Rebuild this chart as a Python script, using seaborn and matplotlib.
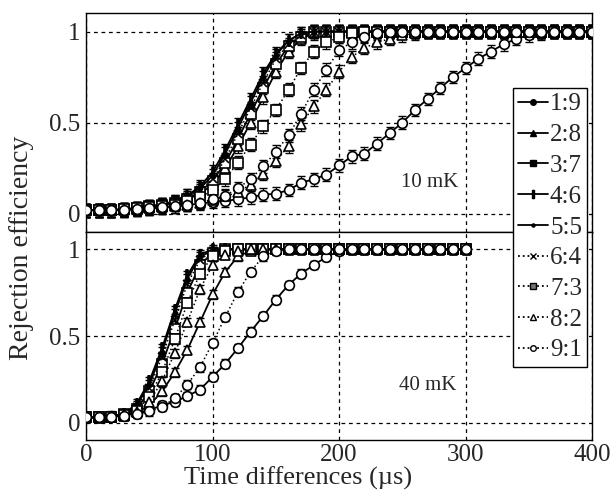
import matplotlib
matplotlib.use("Agg")
import matplotlib.pyplot as plt
from matplotlib.lines import Line2D
import seaborn as sns

# ---------------------------------------------------------------
# Data: rejection efficiency vs. time difference for nine ratios
# ---------------------------------------------------------------
ratios = ["1:9", "2:8", "3:7", "4:6", "5:5", "6:4", "7:3", "8:2", "9:1"]

t_10mk = list(range(0, 401, 10))   # µs, 41 points
t_40mk = list(range(0, 301, 10))   # µs, 31 points

# 10 mK
r19_10mk = [0.02, 0.02, 0.02, 0.02, 0.025, 0.03, 0.035, 0.04, 0.05, 0.055,
            0.065, 0.07, 0.08, 0.09, 0.105, 0.11, 0.13, 0.17, 0.19, 0.215,
            0.265, 0.315, 0.33, 0.385, 0.443, 0.50, 0.57, 0.63, 0.69, 0.75,
            0.80, 0.85, 0.89, 0.93, 0.96, 0.98, 0.99, 1.0, 1.0, 1.0, 1.0]
r28_10mk = [0.02, 0.02, 0.02, 0.025, 0.03, 0.035, 0.045, 0.06, 0.08, 0.11,
            0.16, 0.25, 0.37, 0.50, 0.64, 0.78, 0.89, 0.96, 0.99, 1.0,
            1.0, 1.0, 1.0, 1.0, 1.0, 1.0, 1.0, 1.0, 1.0, 1.0,
            1.0, 1.0, 1.0, 1.0, 1.0, 1.0, 1.0, 1.0, 1.0, 1.0, 1.0]
r37_10mk = [0.02, 0.02, 0.02, 0.025, 0.03, 0.04, 0.05, 0.06, 0.08, 0.12,
            0.18, 0.28, 0.41, 0.55, 0.69, 0.82, 0.92, 0.97, 1.0, 1.0,
            1.0, 1.0, 1.0, 1.0, 1.0, 1.0, 1.0, 1.0, 1.0, 1.0,
            1.0, 1.0, 1.0, 1.0, 1.0, 1.0, 1.0, 1.0, 1.0, 1.0, 1.0]
r46_10mk = [0.02, 0.02, 0.02, 0.025, 0.03, 0.04, 0.05, 0.07, 0.10, 0.15,
            0.23, 0.35, 0.49, 0.63, 0.77, 0.88, 0.95, 0.99, 1.0, 1.0,
            1.0, 1.0, 1.0, 1.0, 1.0, 1.0, 1.0, 1.0, 1.0, 1.0,
            1.0, 1.0, 1.0, 1.0, 1.0, 1.0, 1.0, 1.0, 1.0, 1.0, 1.0]
r55_10mk = [0.02, 0.02, 0.02, 0.025, 0.03, 0.04, 0.05, 0.07, 0.10, 0.14,
            0.21, 0.33, 0.47, 0.61, 0.75, 0.87, 0.95, 0.99, 1.0, 1.0,
            1.0, 1.0, 1.0, 1.0, 1.0, 1.0, 1.0, 1.0, 1.0, 1.0,
            1.0, 1.0, 1.0, 1.0, 1.0, 1.0, 1.0, 1.0, 1.0, 1.0, 1.0]
r64_10mk = [0.02, 0.02, 0.02, 0.025, 0.03, 0.04, 0.05, 0.065, 0.09, 0.13,
            0.19, 0.30, 0.44, 0.58, 0.72, 0.85, 0.93, 0.98, 1.0, 1.0,
            1.0, 1.0, 1.0, 1.0, 1.0, 1.0, 1.0, 1.0, 1.0, 1.0,
            1.0, 1.0, 1.0, 1.0, 1.0, 1.0, 1.0, 1.0, 1.0, 1.0, 1.0]
r73_10mk = [0.02, 0.02, 0.02, 0.025, 0.03, 0.035, 0.04, 0.05, 0.07, 0.09,
            0.13, 0.19, 0.28, 0.38, 0.48, 0.57, 0.68, 0.80, 0.89, 0.94,
            0.97, 0.99, 1.0, 1.0, 1.0, 1.0, 1.0, 1.0, 1.0, 1.0,
            1.0, 1.0, 1.0, 1.0, 1.0, 1.0, 1.0, 1.0, 1.0, 1.0, 1.0]
r82_10mk = [0.02, 0.02, 0.02, 0.02, 0.025, 0.03, 0.035, 0.04, 0.05, 0.06,
            0.075, 0.095, 0.12, 0.16, 0.22, 0.29, 0.37, 0.49, 0.59, 0.68,
            0.78, 0.86, 0.91, 0.94, 0.96, 0.98, 0.99, 1.0, 1.0, 1.0,
            1.0, 1.0, 1.0, 1.0, 1.0, 1.0, 1.0, 1.0, 1.0, 1.0, 1.0]
r91_10mk = [0.02, 0.02, 0.02, 0.02, 0.025, 0.03, 0.035, 0.04, 0.05, 0.06,
            0.08, 0.10, 0.14, 0.19, 0.26, 0.34, 0.43, 0.55, 0.68, 0.79,
            0.90, 0.94, 0.97, 0.99, 1.0, 1.0, 1.0, 1.0, 1.0, 1.0,
            1.0, 1.0, 1.0, 1.0, 1.0, 1.0, 1.0, 1.0, 1.0, 1.0, 1.0]

# 40 mK
r19_40mk = [0.03, 0.035, 0.04, 0.044, 0.054, 0.073, 0.10, 0.12, 0.154, 0.19,
            0.265, 0.34, 0.43, 0.525, 0.615, 0.71, 0.795, 0.86, 0.91, 0.956,
            0.99, 1.0, 1.0, 1.0, 1.0, 1.0, 1.0, 1.0, 1.0, 1.0, 1.0]
r28_40mk = [0.03, 0.03, 0.035, 0.04, 0.06, 0.10, 0.18, 0.29, 0.42, 0.58,
            0.74, 0.87, 0.96, 0.99, 1.0, 1.0, 1.0, 1.0, 1.0, 1.0,
            1.0, 1.0, 1.0, 1.0, 1.0, 1.0, 1.0, 1.0, 1.0, 1.0, 1.0]
r37_40mk = [0.03, 0.03, 0.035, 0.05, 0.08, 0.18, 0.34, 0.54, 0.75, 0.91,
            0.98, 1.0, 1.0, 1.0, 1.0, 1.0, 1.0, 1.0, 1.0, 1.0,
            1.0, 1.0, 1.0, 1.0, 1.0, 1.0, 1.0, 1.0, 1.0, 1.0, 1.0]
r46_40mk = [0.03, 0.03, 0.035, 0.05, 0.11, 0.24, 0.43, 0.65, 0.85, 0.97,
            1.0, 1.0, 1.0, 1.0, 1.0, 1.0, 1.0, 1.0, 1.0, 1.0,
            1.0, 1.0, 1.0, 1.0, 1.0, 1.0, 1.0, 1.0, 1.0, 1.0, 1.0]
r55_40mk = [0.03, 0.03, 0.035, 0.05, 0.10, 0.22, 0.41, 0.63, 0.83, 0.96,
            0.99, 1.0, 1.0, 1.0, 1.0, 1.0, 1.0, 1.0, 1.0, 1.0,
            1.0, 1.0, 1.0, 1.0, 1.0, 1.0, 1.0, 1.0, 1.0, 1.0, 1.0]
r64_40mk = [0.03, 0.03, 0.035, 0.05, 0.09, 0.20, 0.38, 0.59, 0.80, 0.94,
            0.99, 1.0, 1.0, 1.0, 1.0, 1.0, 1.0, 1.0, 1.0, 1.0,
            1.0, 1.0, 1.0, 1.0, 1.0, 1.0, 1.0, 1.0, 1.0, 1.0, 1.0]
r73_40mk = [0.03, 0.03, 0.035, 0.045, 0.07, 0.15, 0.29, 0.48, 0.69, 0.86,
            0.96, 0.99, 1.0, 1.0, 1.0, 1.0, 1.0, 1.0, 1.0, 1.0,
            1.0, 1.0, 1.0, 1.0, 1.0, 1.0, 1.0, 1.0, 1.0, 1.0, 1.0]
r82_40mk = [0.03, 0.03, 0.035, 0.045, 0.06, 0.12, 0.24, 0.40, 0.58, 0.77,
            0.91, 0.97, 0.99, 1.0, 1.0, 1.0, 1.0, 1.0, 1.0, 1.0,
            1.0, 1.0, 1.0, 1.0, 1.0, 1.0, 1.0, 1.0, 1.0, 1.0, 1.0]
r91_40mk = [0.03, 0.03, 0.035, 0.04, 0.05, 0.065, 0.092, 0.14, 0.22, 0.32,
            0.46, 0.61, 0.755, 0.87, 0.96, 0.99, 1.0, 1.0, 1.0, 1.0,
            1.0, 1.0, 1.0, 1.0, 1.0, 1.0, 1.0, 1.0, 1.0, 1.0, 1.0]

eff_10mk = [r19_10mk, r28_10mk, r37_10mk, r46_10mk, r55_10mk,
            r64_10mk, r73_10mk, r82_10mk, r91_10mk]
eff_40mk = [r19_40mk, r28_40mk, r37_40mk, r46_40mk, r55_40mk,
            r64_40mk, r73_40mk, r82_40mk, r91_40mk]

# symmetric uncertainty drawn on every point
err_10mk = 0.035
err_40mk = 0.025

x_ticks = [0, 100, 200, 300, 400]
y_ticks = [0, 0.5, 1]
y_ticklabels = ["0", "0.5", "1"]

# ---------------------------------------------------------------
# Styling
# ---------------------------------------------------------------
sns.set_theme(style="white")
plt.rcParams["font.family"] = ["Liberation Serif", "DejaVu Serif"]
plt.rcParams["mathtext.fontset"] = "dejavuserif"

markers = ["o", "^", "s", "$\\|$", ".", "x", "s", "^", "o"]
plot_ms = [7, 7, 7, 7, 6, 6, 7, 7, 7]
linestyles = ["-"] * 5 + [":"] * 4

fig = plt.figure(figsize=(6.11, 4.93), dpi=100)
gs = fig.add_gridspec(2, 1, height_ratios=[218.7, 208.0], hspace=0.0,
                      left=0.141, right=0.969, top=0.973, bottom=0.1075)
ax_top = fig.add_subplot(gs[0])
ax_bot = fig.add_subplot(gs[1], sharex=ax_top)


def draw_panel(ax, t, series, err):
    for vals in series:
        ax.errorbar(t, vals, yerr=err, fmt="none", ecolor="black",
                    elinewidth=0.8, capsize=3, capthick=1.0, zorder=2)
    for i, vals in enumerate(series):
        face = "black" if markers[i] == "." else "white"
        sns.lineplot(x=t, y=vals, ax=ax, color="black", estimator=None,
                     sort=False, linestyle=linestyles[i],
                     linewidth=1.3 if linestyles[i] == "-" else 1.1,
                     marker=markers[i], markersize=plot_ms[i],
                     markerfacecolor=face, markeredgecolor="black",
                     markeredgewidth=1.2, legend=False, zorder=3)
    ax.set_xlim(0, 400)
    ax.set_ylim(-0.1, 1.1)
    ax.set_yticks(y_ticks)
    ax.set_yticklabels(y_ticklabels)
    ax.set_xticks(x_ticks)
    ax.set_xlabel("")
    ax.set_ylabel("")
    ax.grid(True, color="black", linestyle=(0, (3, 3)), linewidth=0.9)
    ax.tick_params(length=0, labelsize=18, pad=4)
    for sp in ax.spines.values():
        sp.set_color("black")
        sp.set_linewidth(1.0)


draw_panel(ax_top, t_10mk, eff_10mk, err_10mk)
draw_panel(ax_bot, t_40mk, eff_40mk, err_40mk)
ax_top.tick_params(labelbottom=False)
ax_bot.tick_params(axis="x", pad=3)

ax_top.text(294, 0.17, "10 mK", ha="right", va="center", fontsize=15)
ax_bot.text(293, 0.217, "40 mK", ha="right", va="center", fontsize=15)

fig.text(0.036, 0.498, "Rejection efficiency", rotation=90,
         ha="center", va="center", fontsize=20)
fig.text(0.488, 0.03, "Time differences (\u00b5s)",
         ha="center", va="center", fontsize=19)

# legend with compact markers
leg_face = ["black", "black", "black", "black", "black",
            "black", "0.45", "white", "white"]
leg_ms = [4, 5, 4, 6, 4.5, 4, 4, 4, 4]
handles = [Line2D([], [], color="black", linestyle=linestyles[i],
                  linewidth=1.3, marker=markers[i], markersize=leg_ms[i],
                  markerfacecolor=leg_face[i], markeredgecolor="black",
                  markeredgewidth=1.0)
           for i in range(len(ratios))]
leg = fig.legend(handles, ratios, loc="upper right",
                 bbox_to_anchor=(587 / 611, 1 - 88 / 493),
                 frameon=True, fancybox=False, edgecolor="black",
                 framealpha=1.0, fontsize=18, handlelength=1.2,
                 handletextpad=0.1, labelspacing=0.33, borderpad=0.2,
                 borderaxespad=0.0)
leg.get_frame().set_linewidth(1.0)

fig.savefig("out.png", dpi=100)
